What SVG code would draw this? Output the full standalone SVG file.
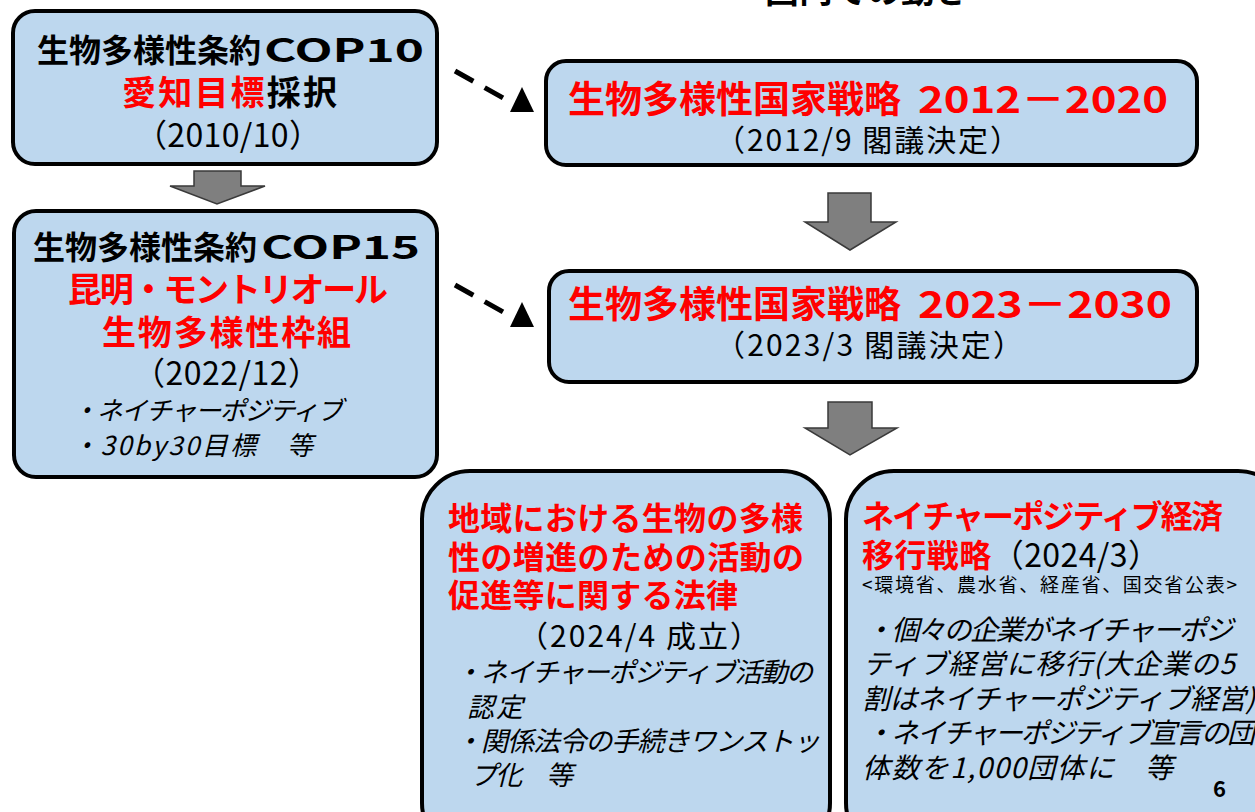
<svg xmlns="http://www.w3.org/2000/svg" width="1255" height="812" viewBox="0 0 1255 812">
<style>
.box{fill:#BDD7EE;stroke:#000;stroke-width:4}
text{font-family:"Noto Sans CJK JP","Noto Sans",sans-serif;fill:#000}
.b{font-weight:bold}
.r{fill:#FF0000}
.it{font-style:italic}
.garrow{fill:#7F7F7F;stroke:#3A3A3A;stroke-width:1.5}
.dash{stroke:#000;stroke-width:5;stroke-dasharray:21 13;fill:none}
</style>
<rect width="1255" height="812" fill="#fff"/>
<text x="867" y="3" font-size="34" text-anchor="middle" class="b">国内での動き</text>

<g id="connectors">
  <polygon class="garrow" points="194,171 241,171 241,186 265,186 217,204 170,186 194,186"/>
  <polygon class="garrow" points="828,193 871,193 871,222 896,222 850,250 805,222 828,222"/>
  <polygon class="garrow" points="828,402 872,402 872,428 897,428 850,455 805,428 828,428"/>
  <line class="dash" x1="455" y1="71" x2="505" y2="99"/>
  <polygon points="522,87 534,112 510,112" fill="#000"/>
  <line class="dash" x1="455" y1="285" x2="505" y2="313"/>
  <polygon points="522,302 534,327 510,327" fill="#000"/>
</g>

<g id="cop10">
  <rect class="box" x="13" y="11" width="424" height="153" rx="22"/>
  <text x="37" y="62" font-size="32" class="b">生物多様性条約<tspan x="264" textLength="160" lengthAdjust="spacingAndGlyphs">COP10</tspan></text>
  <text x="122" y="105" font-size="34" class="b" textLength="215"><tspan class="r">愛知目標</tspan>採択</text>
  <text x="135" y="147" font-size="32" textLength="186">（2010/10）</text>
</g>

<g id="cop15">
  <rect class="box" x="14" y="211" width="423" height="266" rx="22"/>
  <text x="33" y="259" font-size="32" class="b">生物多様性条約<tspan x="261" textLength="159" lengthAdjust="spacingAndGlyphs">COP15</tspan></text>
  <text x="68" y="302" font-size="34" class="b r" textLength="320">昆明・モントリオール</text>
  <text x="102" y="345" font-size="34" class="b r" textLength="249">生物多様性枠組</text>
  <text x="133" y="385" font-size="32" textLength="187">（2022/12）</text>
  <text x="72" y="420" font-size="26" class="it" textLength="271">・ネイチャーポジティブ</text>
  <text x="72" y="455" font-size="26" class="it" textLength="241">・30by30目標　等</text>
</g>

<g id="nbsap2012">
  <rect class="box" x="546" y="61" width="651" height="104" rx="20"/>
  <text x="568" y="113" font-size="37" class="b r">生物多様性国家戦略<tspan x="918" textLength="250" lengthAdjust="spacingAndGlyphs">2012－2020</tspan></text>
  <text x="715" y="151" font-size="30" textLength="305">（2012/9 閣議決定）</text>
</g>

<g id="nbsap2023">
  <rect class="box" x="549" y="271" width="648" height="111" rx="20"/>
  <text x="568" y="318" font-size="37" class="b r">生物多様性国家戦略<tspan x="918" textLength="254" lengthAdjust="spacingAndGlyphs">2023－2030</tspan></text>
  <text x="715" y="356" font-size="30" textLength="308">（2023/3 閣議決定）</text>
</g>

<g id="law">
  <rect class="box" x="422" y="471" width="408" height="380" rx="48"/>
  <text x="448" y="530" font-size="32" class="b r" textLength="355">地域における生物の多様</text>
  <text x="448" y="569" font-size="32" class="b r" textLength="356">性の増進のための活動の</text>
  <text x="448" y="607" font-size="32" class="b r" textLength="290">促進等に関する法律</text>
  <text x="518" y="647" font-size="30" textLength="242">（2024/4 成立）</text>
  <text x="455" y="682" font-size="27" class="it" textLength="358">・ネイチャーポジティブ活動の</text>
  <text x="467" y="717" font-size="27" class="it" textLength="56">認定</text>
  <text x="455" y="751" font-size="27" class="it" textLength="365">・関係法令の手続きワンストッ</text>
  <text x="470" y="785" font-size="27" class="it" textLength="103">プ化　等</text>
</g>

<g id="strategy">
  <rect class="box" x="846" y="471" width="440" height="380" rx="48"/>
  <text x="862" y="528" font-size="32" class="b r" textLength="361">ネイチャーポジティブ経済</text>
  <text x="862" y="567" font-size="32" textLength="298"><tspan class="b r">移行戦略</tspan>（2024/3）</text>
  <text x="862" y="592" font-size="19" textLength="375">&lt;環境省、農水省、経産省、国交省公表&gt;</text>
  <text x="865" y="640" font-size="28" class="it" textLength="368">・個々の企業がネイチャーポジ</text>
  <text x="863" y="674" font-size="28" class="it" textLength="372">ティブ経営に移行(大企業の5</text>
  <text x="862" y="709" font-size="28" class="it" textLength="393">割はネイチャーポジティブ経営)</text>
  <text x="865" y="743" font-size="28" class="it" textLength="390">・ネイチャーポジティブ宣言の団</text>
  <text x="862" y="778" font-size="28" class="it" textLength="311">体数を1,000団体に　等</text>
  <text x="1213" y="797" font-size="22" class="b" font-family="Liberation Sans, sans-serif">6</text>
</g>
</svg>
